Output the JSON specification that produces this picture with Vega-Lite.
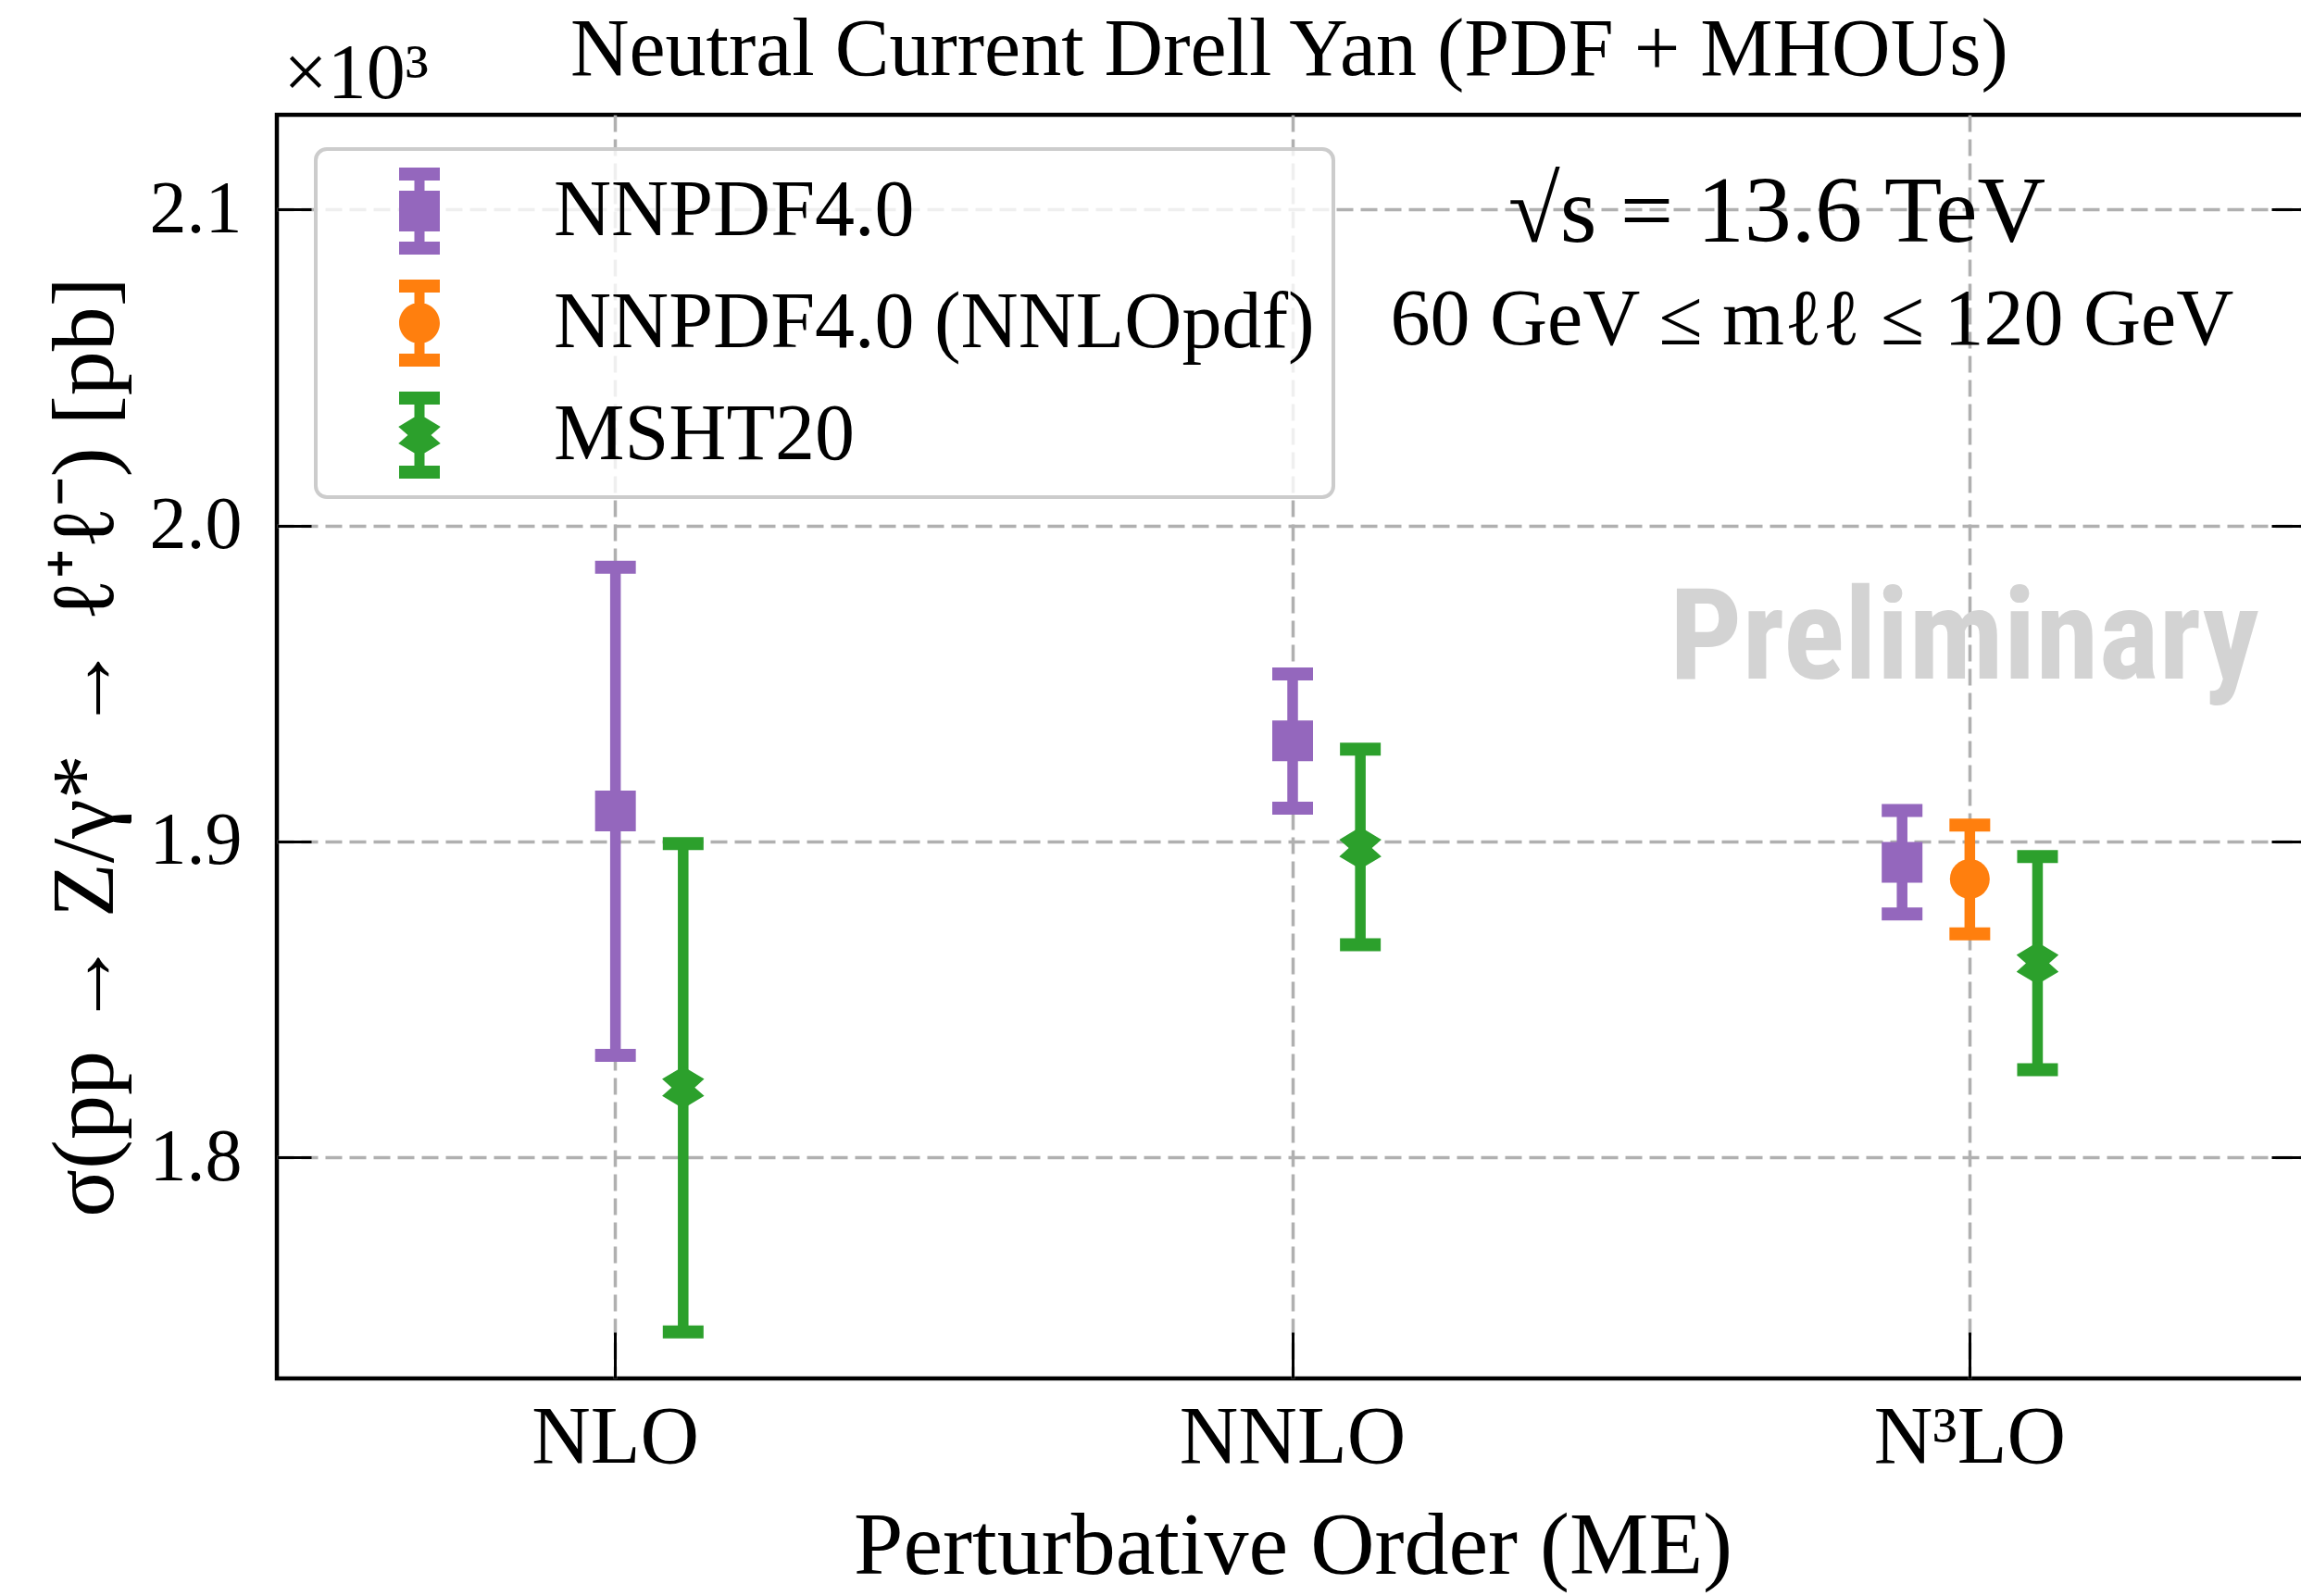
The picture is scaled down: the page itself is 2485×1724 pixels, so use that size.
{
  "$schema": "https://vega.github.io/schema/vega-lite/v6.json",
  "width": 2194,
  "height": 1365,
  "autosize": {"type": "none"},
  "padding": {"left": 299, "top": 124, "right": -8, "bottom": 235},
  "background": "white",
  "config": {
    "font": "Liberation Serif",
    "view": {"stroke": "black", "strokeWidth": 4.5},
    "axis": {"labelColor": "black", "titleColor": "black", "labelFont": "Liberation Serif", "titleFont": "Liberation Serif", "titleFontWeight": "normal"},
    "legend": {"strokeWidth": 4}
  },
  "datasets": {
    "xs": [
      {"order": "NLO", "pdf": "NNPDF4.0", "slot": "centre", "xsec": 1.9096, "lo": 1.8323, "hi": 1.9868},
      {"order": "NLO", "pdf": "MSHT20", "slot": "right", "xsec": 1.8221, "lo": 1.7447, "hi": 1.8993},
      {"order": "NNLO", "pdf": "NNPDF4.0", "slot": "centre", "xsec": 1.9318, "lo": 1.9105, "hi": 1.9530},
      {"order": "NNLO", "pdf": "MSHT20", "slot": "right", "xsec": 1.8979, "lo": 1.8673, "hi": 1.9292},
      {"order": "N³LO", "pdf": "NNPDF4.0", "slot": "left", "xsec": 1.8934, "lo": 1.8770, "hi": 1.9098},
      {"order": "N³LO", "pdf": "NNPDF4.0 (NNLOpdf)", "slot": "centre", "xsec": 1.8881, "lo": 1.8707, "hi": 1.9052},
      {"order": "N³LO", "pdf": "MSHT20", "slot": "right", "xsec": 1.8614, "lo": 1.8277, "hi": 1.8952}
    ]
  },
  "layer": [
    {
      "data": {"name": "xs"},
      "encoding": {
        "x": {"field": "order", "type": "nominal", "title": "Perturbative Order (ME)",
              "scale": {"domain": ["NLO", "NNLO", "N³LO"], "paddingInner": 0, "paddingOuter": 0},
              "axis": {"labelAngle": 0, "labelLimit": 1000, "bandPosition": 0.5, "grid": true, "gridColor": "#b0b0b0", "gridDash": [18, 8], "gridWidth": 3.5, "domain": false, "tickSize": -50, "tickWidth": 3, "tickColor": "black", "labelFontSize": 88, "labelPadding": 70, "titleFontSize": 96, "titlePadding": 26}},
        "xOffset": {"field": "slot", "type": "nominal", "scale": {"domain": ["gap1", "gap2", "gap3", "left", "centre", "right", "gap4", "gap5", "gap6"], "paddingInner": 0, "paddingOuter": 0.5}},
        "color": {"field": "pdf", "type": "nominal", "scale": {"domain": ["NNPDF4.0", "NNPDF4.0 (NNLOpdf)", "MSHT20"], "range": ["#9467bd", "#ff7f0e", "#2ca02c"]}, "legend": null}
      },
      "layer": [
        {
          "mark": {"type": "rule", "strokeWidth": 11.5, "strokeCap": "butt"},
          "encoding": {
            "y": {"field": "lo", "type": "quantitative", "title": "σ(pp → Z/γ* → ℓ⁺ℓ⁻) [pb]",
                  "scale": {"domain": [1.73, 2.13], "nice": false, "zero": false},
                  "axis": {"values": [1.8, 1.9, 2.0, 2.1], "format": ".1f", "grid": true, "gridColor": "#b0b0b0", "gridDash": [18, 8], "gridWidth": 3.5, "domain": false, "tickSize": -37, "tickWidth": 3, "tickColor": "black", "labelFontSize": 80, "labelPadding": 75, "titleFontSize": 96, "titlePadding": 20}},
            "y2": {"field": "hi"}
          }
        },
        {
          "mark": {"type": "tick", "orient": "horizontal", "size": 44, "thickness": 14, "opacity": 1},
          "encoding": {"y": {"field": "hi", "type": "quantitative"}}
        },
        {
          "mark": {"type": "tick", "orient": "horizontal", "size": 44, "thickness": 14, "opacity": 1},
          "encoding": {"y": {"field": "lo", "type": "quantitative"}}
        },
        {
          "transform": [{"filter": {"field": "pdf", "equal": "NNPDF4.0"}}],
          "mark": {"type": "point", "shape": "square", "filled": true, "size": 1936, "opacity": 1},
          "encoding": {"y": {"field": "xsec", "type": "quantitative"}}
        },
        {
          "transform": [{"filter": {"field": "pdf", "equal": "NNPDF4.0 (NNLOpdf)"}}],
          "mark": {"type": "point", "shape": "circle", "filled": true, "size": 1849, "opacity": 1},
          "encoding": {"y": {"field": "xsec", "type": "quantitative"}}
        },
        {
          "transform": [{"filter": {"field": "pdf", "equal": "MSHT20"}}],
          "mark": {"type": "point", "shape": "M 0,-1 L 1,-0.4 L 0.55,0 L 1,0.4 L 0,1 L -1,0.4 L -0.55,0 L -1,-0.4 Z", "filled": true, "size": 2070, "opacity": 1},
          "encoding": {"y": {"field": "xsec", "type": "quantitative"}}
        }
      ]
    },
    {
      "data": {"values": [{}]},
      "layer": [
        {
          "mark": {"type": "text", "text": "×10³", "align": "left", "baseline": "alphabetic", "fontSize": 84, "color": "black"},
          "encoding": {
            "x": {"datum": -0.49, "type": "quantitative", "scale": {"domain": [-0.5, 2.5], "nice": false, "zero": false}, "axis": null},
            "y": {"datum": 2.1353, "type": "quantitative", "axis": {"orient": "right", "values": [1.8, 1.9, 2.0, 2.1], "labels": false, "grid": false, "domain": false, "ticks": true, "tickSize": -40, "tickWidth": 3, "tickColor": "black", "title": null}}
          }
        },
        {
          "mark": {"type": "text", "text": "Neutral Current Drell Yan (PDF + MHOUs)", "align": "center", "baseline": "alphabetic", "fontSize": 88, "color": "black"},
          "encoding": {
            "x": {"datum": 0.995, "type": "quantitative", "scale": {"domain": [-0.5, 2.5], "nice": false, "zero": false}, "axis": null},
            "y": {"datum": 2.1425, "type": "quantitative"}
          }
        },
        {
          "mark": {"type": "text", "text": "√s = 13.6 TeV", "align": "center", "baseline": "alphabetic", "fontSize": 102, "color": "black"},
          "encoding": {
            "x": {"datum": 1.715, "type": "quantitative", "scale": {"domain": [-0.5, 2.5], "nice": false, "zero": false}, "axis": null},
            "y": {"datum": 2.0898, "type": "quantitative"}
          }
        },
        {
          "mark": {"type": "text", "text": "60 GeV ≤ mℓℓ ≤ 120 GeV", "align": "center", "baseline": "alphabetic", "fontSize": 86, "color": "black"},
          "encoding": {
            "x": {"datum": 1.767, "type": "quantitative", "scale": {"domain": [-0.5, 2.5], "nice": false, "zero": false}, "axis": null},
            "y": {"datum": 2.0573, "type": "quantitative"}
          }
        },
        {
          "mark": {"type": "text", "text": "Preliminary", "align": "center", "baseline": "alphabetic", "fontSize": 138, "font": "Liberation Sans Narrow, Roboto Condensed, Open Sans Condensed, Noto Sans Condensed, Roboto, sans-serif", "fontWeight": "bold", "color": "#d3d3d3"},
          "encoding": {
            "x": {"datum": 1.992, "type": "quantitative", "scale": {"domain": [-0.5, 2.5], "nice": false, "zero": false}, "axis": null},
            "y": {"datum": 1.9515, "type": "quantitative"}
          }
        },
        {
          "data": {"name": "xs"},
          "mark": {"type": "point", "filled": true, "clip": true, "opacity": 1},
          "encoding": {
            "x": {"datum": 0, "type": "quantitative", "scale": {"domain": [-0.5, 2.5], "nice": false, "zero": false}, "axis": null},
            "y": {"datum": 1.0, "type": "quantitative"},
            "shape": {"field": "pdf", "type": "nominal",
                      "scale": {"domain": ["NNPDF4.0", "NNPDF4.0 (NNLOpdf)", "MSHT20"],
                                "range": [
                                  "M -0.468,-1 H 0.468 V -0.7 H -0.468 Z M -0.468,0.7 H 0.468 V 1 H -0.468 Z M -0.117,-0.75 H 0.117 V 0.75 H -0.117 Z M -0.468,-0.468 H 0.468 V 0.468 H -0.468 Z",
                                  "M -0.468,-1 H 0.468 V -0.7 H -0.468 Z M -0.468,0.7 H 0.468 V 1 H -0.468 Z M -0.117,-0.75 H 0.117 V 0.75 H -0.117 Z M -0.468,0 A 0.468,0.468 0 1,1 0.468,0 A 0.468,0.468 0 1,1 -0.468,0 Z",
                                  "M -0.468,-1 H 0.468 V -0.7 H -0.468 Z M -0.468,0.7 H 0.468 V 1 H -0.468 Z M -0.117,-0.75 H 0.117 V 0.75 H -0.117 Z M 0,-0.484 L 0.484,-0.194 L 0.266,0 L 0.484,0.194 L 0,0.484 L -0.484,0.194 L -0.266,0 L -0.484,-0.194 Z"
                                ]},
                      "legend": {"title": null, "orient": "none", "legendX": 42, "legendY": 37, "padding": 20, "symbolSize": 8836, "symbolOffset": 45, "symbolStrokeWidth": 0, "labelOffset": 98, "rowPadding": 27, "labelFontSize": 86, "labelFont": "Liberation Serif", "labelColor": "black", "labelLimit": 0, "fillColor": "rgba(255,255,255,0.8)", "strokeColor": "#cccccc", "cornerRadius": 12, "symbolOpacity": 1}},
            "color": {"field": "pdf", "type": "nominal",
                      "scale": {"domain": ["NNPDF4.0", "NNPDF4.0 (NNLOpdf)", "MSHT20"], "range": ["#9467bd", "#ff7f0e", "#2ca02c"]},
                      "legend": {"title": null, "orient": "none", "legendX": 42, "legendY": 37, "padding": 20, "symbolSize": 8836, "symbolOffset": 45, "symbolStrokeWidth": 0, "labelOffset": 98, "rowPadding": 27, "labelFontSize": 86, "labelFont": "Liberation Serif", "labelColor": "black", "labelLimit": 0, "fillColor": "rgba(255,255,255,0.8)", "strokeColor": "#cccccc", "cornerRadius": 12, "symbolOpacity": 1}}
          }
        }
      ]
    }
  ],
  "resolve": {"scale": {"x": "independent", "color": "independent", "shape": "independent"}, "axis": {"x": "independent", "y": "independent"}}
}
